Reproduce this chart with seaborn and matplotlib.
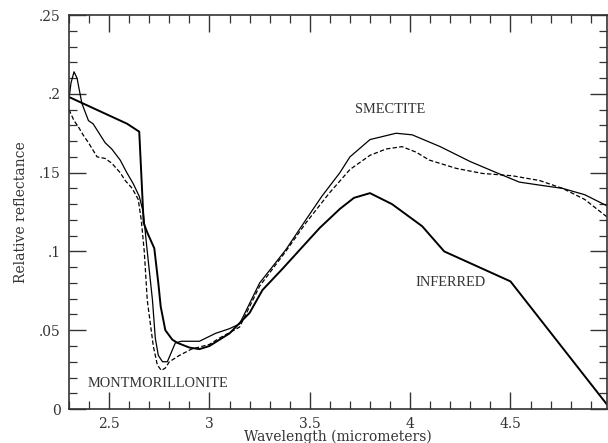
import numpy as np
import pandas as pd
import matplotlib
matplotlib.use("Agg")
import matplotlib.pyplot as plt
from matplotlib.ticker import MultipleLocator, FuncFormatter
import seaborn as sns

# ---- data ----
smectite_x = [2.30, 2.31, 2.325, 2.34, 2.364, 2.397, 2.42, 2.455, 2.48, 2.513, 2.555,
              2.588, 2.62, 2.65, 2.67, 2.69, 2.716, 2.73, 2.745, 2.766, 2.79, 2.81,
              2.83, 2.86, 2.95, 3.03, 3.10, 3.15, 3.25, 3.38, 3.48, 3.56, 3.65, 3.70,
              3.80, 3.93, 4.01, 4.15, 4.30, 4.43, 4.544, 4.65, 4.76, 4.87, 4.98]
smectite_y = [0.197, 0.207, 0.214, 0.210, 0.194, 0.183, 0.181, 0.174, 0.169, 0.165, 0.158,
              0.150, 0.143, 0.135, 0.125, 0.100, 0.069, 0.045, 0.034, 0.030, 0.030, 0.036,
              0.042, 0.043, 0.043, 0.048, 0.051, 0.054, 0.080, 0.101, 0.120, 0.135, 0.150, 0.160,
              0.171, 0.175, 0.174, 0.1665, 0.157, 0.150, 0.144, 0.142, 0.140, 0.136, 0.129]

montmorillonite_x = [2.30, 2.325, 2.347, 2.37, 2.397, 2.44, 2.48, 2.513, 2.555, 2.58, 2.615,
                     2.645, 2.66, 2.675, 2.69, 2.72, 2.74, 2.76, 2.78, 2.80, 2.85, 2.91,
                     3.00, 3.05, 3.15, 3.25, 3.38, 3.48, 3.597, 3.70, 3.80, 3.88, 3.96,
                     4.03, 4.095, 4.23, 4.36, 4.51, 4.645, 4.76, 4.87, 4.98]
montmorillonite_y = [0.190, 0.183, 0.179, 0.174, 0.169, 0.160, 0.159, 0.156, 0.150, 0.145, 0.140,
                     0.133, 0.120, 0.100, 0.069, 0.040, 0.028, 0.0245, 0.026, 0.030, 0.034, 0.038,
                     0.041, 0.045, 0.052, 0.078, 0.100, 0.118, 0.137, 0.152, 0.161, 0.165, 0.1665,
                     0.163, 0.158, 0.1527, 0.1495, 0.148, 0.145, 0.140, 0.133, 0.122]

inferred_x = [2.30, 2.59, 2.65, 2.672, 2.69, 2.725, 2.745, 2.757, 2.78, 2.815, 2.84,
              2.90, 2.95, 3.00, 3.10, 3.20, 3.264, 3.364, 3.464, 3.55, 3.65, 3.72,
              3.80, 3.91, 4.06, 4.17, 4.50, 4.98]
inferred_y = [0.198, 0.181, 0.176, 0.118, 0.112, 0.102, 0.080, 0.065, 0.050, 0.044, 0.042,
              0.039, 0.038, 0.040, 0.048, 0.061, 0.0755, 0.089, 0.103, 0.115, 0.127, 0.134,
              0.137, 0.130, 0.116, 0.100, 0.081, 0.003]

x_ticks = [2.5, 3.0, 3.5, 4.0, 4.5]
y_ticks = [0, 0.05, 0.10, 0.15, 0.20, 0.25]

labels = ["SMECTITE", "INFERRED", "MONTMORILLONITE"]
label_x = [3.9, 4.2, 2.745]
label_y = [0.190, 0.0805, 0.0165]

# ---- style ----
sns.set_style("ticks")
plt.rcParams["font.family"] = ["DejaVu Serif"]

fig = plt.figure(figsize=(6.08, 4.43), dpi=100)
ax = fig.add_axes([0.1135, 0.0767, 0.8845, 0.8893])

sns.lineplot(x=smectite_x, y=smectite_y, ax=ax, color="black", lw=0.9,
             estimator=None, sort=False)
sns.lineplot(x=montmorillonite_x, y=montmorillonite_y, ax=ax, color="black", lw=0.9,
             linestyle=(0, (3.5, 1.8)), estimator=None, sort=False)
sns.lineplot(x=inferred_x, y=inferred_y, ax=ax, color="black", lw=1.4,
             estimator=None, sort=False)

ax.set_xlim(2.3, 4.98)
ax.set_ylim(0, 0.25)

ax.xaxis.set_major_locator(plt.FixedLocator(x_ticks))
ax.xaxis.set_minor_locator(MultipleLocator(0.1))
ax.yaxis.set_major_locator(plt.FixedLocator(y_ticks))
ax.yaxis.set_minor_locator(MultipleLocator(0.01))

def yfmt(v, pos):
    if abs(v) < 1e-9:
        return "0"
    s = f"{v:g}"
    return s[1:] if s.startswith("0") else s

ax.yaxis.set_major_formatter(FuncFormatter(yfmt))
ax.xaxis.set_major_formatter(FuncFormatter(lambda v, p: f"{v:g}"))

ax.tick_params(which="both", direction="in", top=True, right=True, color="#333333")
ax.tick_params(which="major", length=12, width=1.0, labelsize=10, pad=6)
ax.tick_params(which="minor", length=6, width=0.9)

for s in ax.spines.values():
    s.set_visible(True)
    s.set_linewidth(1.2)
    s.set_color("#333333")

for t in ax.get_xticklabels() + ax.get_yticklabels():
    t.set_color("#333333")

ax.set_xlabel("Wavelength (micrometers)", fontsize=10, labelpad=-1, color="#333333")
ax.set_ylabel("Relative reflectance", fontsize=10, labelpad=8, color="#333333")

for lab, lx, ly in zip(labels, label_x, label_y):
    ax.text(lx, ly, lab, ha="center", va="center", fontsize=10.4,
            family=["Liberation Serif"], color="#333333")

fig.savefig("out.png", dpi=100)
